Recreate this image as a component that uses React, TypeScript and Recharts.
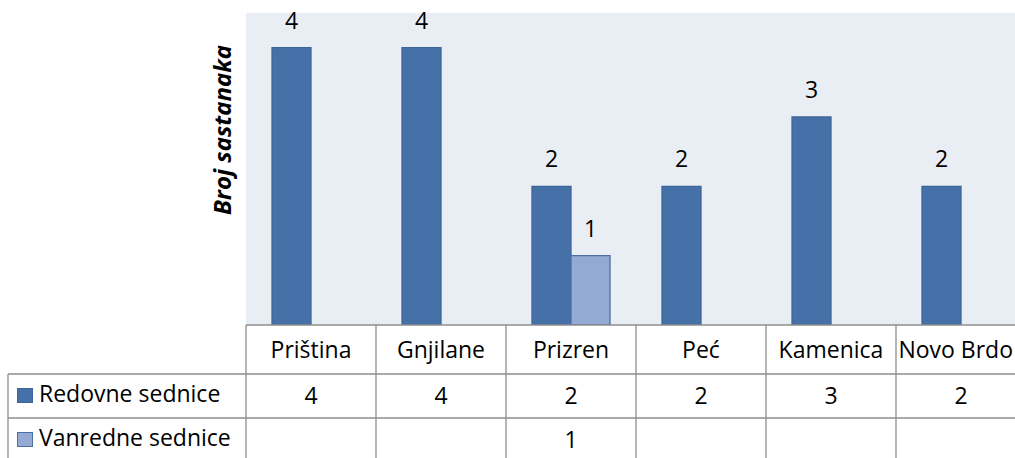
import React from 'react';
import { BarChart, Bar, XAxis, YAxis, CartesianGrid, LabelList } from 'recharts';

const categories = ['Priština', 'Gnjilane', 'Prizren', 'Peć', 'Kamenica', 'Novo Brdo'];
const redovne = [4, 4, 2, 2, 3, 2];
const vanredne: (number | null)[] = [null, null, 1, null, null, null];
const seriesNames = ['Redovne sednice', 'Vanredne sednice'];
const seriesKeys = ['redovne', 'vanredne'];
const seriesFill = ['#4671A8', '#95AAD3'];
const seriesStroke = ['#3C659A', '#4A6FA5'];
const yLabel = 'Broj sastanaka';
const yDomain = [0, 4.5];

const data = categories.map((name, i) => ({ name, redovne: redovne[i], vanredne: vanredne[i] }));

const FONT = '"Open Sans", sans-serif';
const FS = 23;
const VIEW_W = 1015;
const CHART_W = 1030;
const CHART_H = 470;
const MARGIN = { top: 13, right: 4, left: 246, bottom: 5 };
const COL_W = (CHART_W - MARGIN.left - MARGIN.right) / categories.length;
const ROW0 = 49;
const ROW1 = 44;
const ROW2 = 44;
const LEGEND_X = 8;
const GRID = '#8E8E8E';

const TableTick = (props: any) => {
  const { x, y, payload } = props;
  const i = payload.index;
  const half = COL_W / 2;
  const left = x - half;
  const right = x + half;
  const r1 = y + ROW0;
  const r2 = r1 + ROW1;
  const r3 = r2 + ROW2;
  const vals = [redovne[i], vanredne[i]];
  const clipped = right > VIEW_W;
  return (
    <g>
      <line x1={right} y1={y} x2={right} y2={r3} stroke={GRID} strokeWidth={1.3} />
      <line x1={left} y1={r1} x2={right} y2={r1} stroke={GRID} strokeWidth={1.3} />
      <line x1={left} y1={r2} x2={right} y2={r2} stroke={GRID} strokeWidth={1.3} />
      <text
        x={clipped ? VIEW_W - 2 : x}
        y={y + 33}
        textAnchor={clipped ? 'end' : 'middle'}
        fontFamily={FONT}
        fontSize={FS}
        fill="#000"
      >
        {payload.value}
      </text>
      {vals.map((v, k) =>
        v == null ? null : (
          <text key={k} x={x} y={(k === 0 ? r1 : r2) + 30} textAnchor="middle" fontFamily={FONT} fontSize={FS} fill="#000">
            {v}
          </text>
        )
      )}
      {i === 0 && (
        <g>
          <text
            transform={`translate(${left - 15}, ${y - 195}) rotate(-90)`}
            textAnchor="middle"
            fontFamily={FONT}
            fontSize={24}
            fontWeight={700}
            fontStyle="italic"
            fill="#000"
          >
            {yLabel}
          </text>
          <line x1={left} y1={y} x2={left} y2={r3} stroke={GRID} strokeWidth={1.3} />
          <line x1={LEGEND_X} y1={r1} x2={left} y2={r1} stroke={GRID} strokeWidth={1.3} />
          <line x1={LEGEND_X} y1={r2} x2={left} y2={r2} stroke={GRID} strokeWidth={1.3} />
          <line x1={LEGEND_X} y1={r1} x2={LEGEND_X} y2={r3} stroke={GRID} strokeWidth={1.3} />
          {seriesNames.map((s, k) => {
            const top = k === 0 ? r1 : r2;
            return (
              <g key={s}>
                <rect x={LEGEND_X + 9.5} y={top + 14.5} width={15} height={14} fill={seriesFill[k]} stroke={seriesStroke[k]} strokeWidth={1} />
                <text x={LEGEND_X + 31} y={top + 28} fontFamily={FONT} fontSize={FS} fill="#000">
                  {s}
                </text>
              </g>
            );
          })}
        </g>
      )}
    </g>
  );
};

export default function App() {
  return (
    <div style={{ position: 'absolute', left: 0, top: 0, width: VIEW_W, height: 458, overflow: 'hidden', background: '#fff' }}>
      <BarChart width={CHART_W} height={CHART_H} data={data} margin={MARGIN} barCategoryGap="20%" barGap={0}>
        <CartesianGrid horizontal={false} vertical={false} fill="#E9EDF4" />
        <YAxis domain={yDomain} ticks={[]} width={0} axisLine={false} tickLine={false} allowDataOverflow />
        <XAxis
          dataKey="name"
          height={140}
          interval={0}
          tickLine={false}
          tickSize={0}
          tickMargin={0}
          axisLine={{ stroke: GRID, strokeWidth: 1.3 }}
          tick={<TableTick />}
        />
        {seriesKeys.map((k, idx) => (
          <Bar key={k} dataKey={k} fill={seriesFill[idx]} stroke={seriesStroke[idx]} strokeWidth={1.3} isAnimationActive={false}>
            <LabelList dataKey={k} position="top" offset={19} style={{ fontFamily: FONT, fontSize: FS, fill: '#000' }} />
          </Bar>
        ))}
      </BarChart>
    </div>
  );
}
